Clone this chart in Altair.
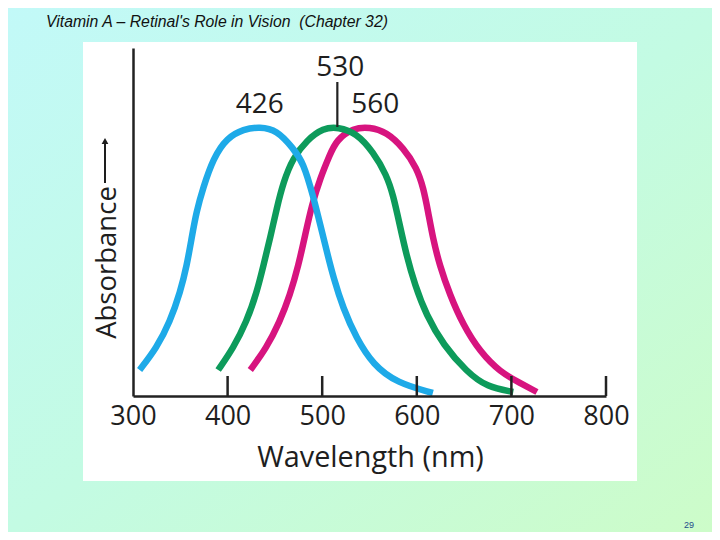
import altair as alt
import pandas as pd

# ---- data (absorbance in arbitrary units) ----
blue_nm = [307, 325, 339, 350, 357, 362, 367, 374, 385, 399, 417, 434, 452, 469, 480,
           491, 498, 505, 512, 522, 536, 554, 579, 617]
blue_ab = [26, 48, 74, 104, 131, 158, 184, 208, 238, 258, 267, 269, 266, 248, 234,
           198, 171, 144, 118, 88, 58, 31, 13, 3]

green_nm = [390, 406, 420, 431, 438, 445, 452, 459, 469, 484, 501, 517, 536, 554, 568,
            575, 582, 589, 598, 610, 628, 653, 674, 702]
green_ab = [26, 48, 74, 104, 131, 158, 188, 214, 238, 256, 268, 269, 263, 244, 221,
            201, 171, 141, 111, 81, 51, 24, 9, 4]

red_nm = [424, 441, 455, 466, 475, 482, 489, 498, 508, 515, 533, 550, 568, 586, 600,
          607, 612, 617, 624, 635, 649, 667, 688, 709, 727]
red_ab = [26, 48, 74, 101, 131, 161, 191, 218, 241, 256, 268, 269, 264, 248, 228,
          208, 184, 158, 131, 101, 71, 44, 24, 13, 4]

tick_values = [300, 400, 500, 600, 700, 800]
tick_marks = [400, 500, 600, 700, 800]

peak_labels = ["426", "530", "560"]
peak_label_nm = [434, 519, 556]
peak_label_ab = [291, 328, 291]

marker_nm = [516]
marker_lo = [269]
marker_hi = [314]

slide_title = "Vitamin A \u2013 Retinal's Role in Vision \u00a0(Chapter 32)"
page_number = "29"

# ---- tables ----
curves = pd.concat([
    pd.DataFrame({"nm": red_nm, "ab": red_ab, "series": "red", "order": 0}),
    pd.DataFrame({"nm": green_nm, "ab": green_ab, "series": "green", "order": 1}),
    pd.DataFrame({"nm": blue_nm, "ab": blue_ab, "series": "blue", "order": 2}),
])
ticks_df = pd.DataFrame({"nm": tick_marks, "y0": 0, "y1": 20})
labels_df = pd.DataFrame({"nm": peak_label_nm, "ab": peak_label_ab, "txt": peak_labels})
marker_df = pd.DataFrame({"nm": marker_nm, "lo": marker_lo, "hi": marker_hi})

FONT = "Open Sans"
INK = "#1e1e1e"

xscale = alt.Scale(domain=[300, 800], nice=False, zero=False)
yscale = alt.Scale(domain=[0, 348], nice=False, zero=False)

x_enc = alt.X("nm:Q", scale=xscale, axis=alt.Axis(
    values=tick_values, tickSize=0, grid=False, format="d", zindex=5,
    labelFontSize=27, labelFont=FONT, labelColor=INK, labelPadding=7,
    labelFlush=False, labelOverlap=False,
    domainColor="#222", domainWidth=2.5,
    title="Wavelength (nm)", titleFont=FONT, titleFontSize=28.8,
    titleFontWeight="normal", titleColor=INK, titleX=237, titleY=70,
    titleBaseline="alphabetic", titleAlign="center"))
y_enc = alt.Y("ab:Q", scale=yscale, axis=alt.Axis(
    labels=False, ticks=False, grid=False, zindex=5,
    domainColor="#222", domainWidth=2.5,
    title="Absorbance", titleFont=FONT, titleFontSize=27.5,
    titleFontWeight="normal", titleColor=INK, titleX=-18, titleY=214,
    titleBaseline="alphabetic", titleAlign="center", titleAngle=270))

# background gradient and white picture box
bg = alt.Chart(pd.DataFrame({"a": [0]})).mark_rect(
    fill=alt.Gradient(gradient="linear", x1=0, y1=0, x2=1, y2=1,
                      stops=[alt.GradientStop(color="#c2f9f8", offset=0),
                             alt.GradientStop(color="#c3fbe3", offset=0.5),
                             alt.GradientStop(color="#cdfcc8", offset=1)])
).encode(x=alt.value(-125), x2=alt.value(598), y=alt.value(-40), y2=alt.value(484))

box = alt.Chart(pd.DataFrame({"a": [0]})).mark_rect(fill="white").encode(
    x=alt.value(-50), x2=alt.value(504), y=alt.value(-6), y2=alt.value(433))

# arrow beside the y-axis title
arrow_line = alt.Chart(pd.DataFrame({"a": [0]})).mark_rule(color=INK, strokeWidth=2).encode(
    x=alt.value(-28), y=alt.value(92), y2=alt.value(135))
arrow_head = alt.Chart(pd.DataFrame({"a": [0]})).mark_point(
    shape="triangle-up", filled=True, color=INK, size=45, opacity=1).encode(
    x=alt.value(-28), y=alt.value(93))

lines = alt.Chart(curves).mark_line(
    strokeWidth=6.5, interpolate="basis", strokeCap="butt"
).encode(
    x=x_enc, y=y_enc,
    color=alt.Color("series:N", scale=alt.Scale(
        domain=["red", "green", "blue"], range=["#d7147f", "#0d9b5b", "#1eaae8"]), legend=None),
    detail="series:N",
    order="order:Q",
)

ticks = alt.Chart(ticks_df).mark_rule(color="#222", strokeWidth=2.5).encode(
    x=alt.X("nm:Q", scale=xscale), y=alt.Y("y0:Q", scale=yscale), y2="y1:Q")

marker = alt.Chart(marker_df).mark_rule(color="#222", strokeWidth=2.2).encode(
    x=alt.X("nm:Q", scale=xscale), y=alt.Y("lo:Q", scale=yscale), y2="hi:Q")

peak_text = alt.Chart(labels_df).mark_text(
    font=FONT, fontSize=28, color=INK, baseline="middle", align="center"
).encode(x=alt.X("nm:Q", scale=xscale), y=alt.Y("ab:Q", scale=yscale), text="txt:N")

title_text = alt.Chart(pd.DataFrame({"t": [slide_title]})).mark_text(
    font="Liberation Sans", fontStyle="italic", fontSize=15.8, color="#111",
    align="left", baseline="middle"
).encode(x=alt.value(-87), y=alt.value(-26), text="t:N")

page_text = alt.Chart(pd.DataFrame({"t": [page_number]})).mark_text(
    font="Liberation Sans", fontSize=9, color="#1f4a8a", align="center", baseline="middle"
).encode(x=alt.value(556), y=alt.value(477), text="t:N")

chart = alt.layer(bg, box, arrow_line, arrow_head, lines, ticks, marker, peak_text,
                  title_text, page_text).properties(
    width=473, height=348,
    padding={"left": 125, "top": 40, "right": 106, "bottom": 136},
    autosize=alt.AutoSizeParams(type="none"),
).configure_view(stroke=None).configure(background="#c4fae6")

chart.save("out.html", embed_options={"renderer": "svg", "actions": False})
